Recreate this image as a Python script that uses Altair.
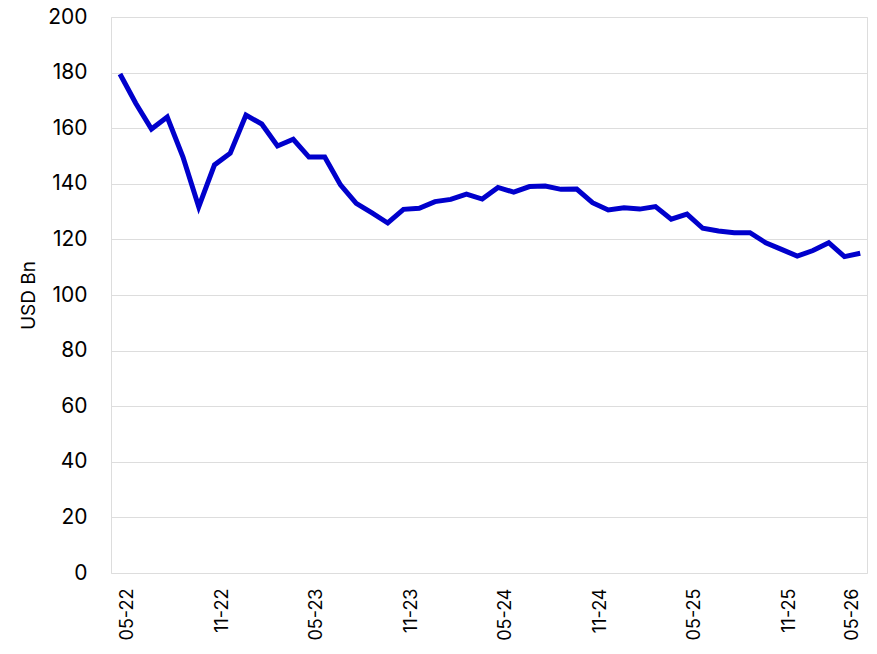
import altair as alt
import pandas as pd

# Monthly values (USD Bn), May 2022 onward
values = [179.5, 169.0, 159.7, 164.0, 149.6, 131.7, 146.8, 151.0, 164.7, 161.5,
          153.6, 156.0, 149.6, 149.6, 139.6, 133.0, 129.5, 125.9, 130.8, 131.2,
          133.6, 134.4, 136.3, 134.5, 138.7, 137.0, 139.0, 139.2, 138.0, 138.1,
          133.2, 130.6, 131.4, 130.9, 131.8, 127.3, 129.1, 124.0, 123.0, 122.4,
          122.4, 118.8, 116.4, 114.0, 116.0, 118.8, 113.8, 115.0]
index = list(range(len(values)))

tick_positions = [0, 6, 12, 18, 24, 30, 36, 42, 46]
tick_labels = ["05-22", "11-22", "05-23", "11-23", "05-24", "11-24", "05-25", "11-25", "05-26"]
y_ticks = [0, 20, 40, 60, 80, 100, 120, 140, 160, 180, 200]

df = pd.DataFrame({"i": index, "v": values})

label_expr = "[" + ",".join("'%s'" % s for s in tick_labels) + "][indexof([" + \
    ",".join(str(p) for p in tick_positions) + "], datum.value)]"

FONT = "Inter"

chart = alt.Chart(df).mark_line(color="#0000CC", strokeWidth=5, strokeJoin="miter").encode(
    x=alt.X("i:Q",
            scale=alt.Scale(domain=[-0.57, 47.43], nice=False, zero=False),
            axis=alt.Axis(values=tick_positions, labelExpr=label_expr, labelAngle=270,
                          labelAlign="right", labelBaseline="middle", labelPadding=15,
                          labelOffset=8,
                          ticks=False, domain=False, grid=False, title=None,
                          labelFont=FONT, labelFontSize=18, labelColor="#000000")),
    y=alt.Y("v:Q",
            scale=alt.Scale(domain=[0, 200], nice=False),
            axis=alt.Axis(values=y_ticks, ticks=False, domain=False, grid=True,
                          gridColor="#dddddd", gridWidth=1,
                          labelPadding=24, labelFont=FONT, labelFontSize=21,
                          labelColor="#000000",
                          title="USD Bn", titleFont=FONT, titleFontSize=19,
                          titleFontWeight="normal", titleColor="#000000",
                          titleAngle=270, titleX=-83, titleY=278,
                          titleBaseline="middle", titleAlign="center")),
).properties(
    width=756, height=556,
    autosize=alt.AutoSizeParams(type="none"),
    padding={"left": 103, "top": 9, "right": 2, "bottom": 70},
).configure_view(stroke=None).configure(background="white")

chart.save("out.html", embed_options={"renderer": "svg", "actions": False})
